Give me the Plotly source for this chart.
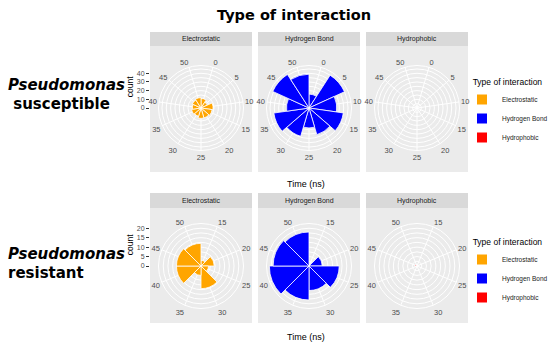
import plotly.graph_objects as go

# ---------------- data ----------------
facets = ["Electrostatic", "Hydrogen Bond", "Hydrophobic"]
colors = {"Electrostatic": "#FFA500", "Hydrogen Bond": "#0000FF", "Hydrophobic": "#FF0000"}

# Pseudomonas susceptible (time bins, ns)
sus_time = [0, 5, 10, 15, 20, 25, 30, 35, 40, 45, 50]
sus_elec = [11, 8, 14, 13, 12, 12, 10, 11, 10, 11, 12]
sus_hb = [16, 45, 32, 40, 32, 23, 34, 41, 26, 46, 39]
sus_hph = [0, 0, 0, 0, 0, 0, 0, 0, 0, 0, 0]

# Pseudomonas resistant
res_time = [15, 20, 25, 30, 35, 40, 45, 50]
res_elec = [3, 7, 4, 12, 5, 13, 13, 12]
res_hb = [0, 7, 16, 13, 18, 21, 19, 18]
res_hph = [0, 0, 0, 0, 0, 0, 1, 0]

sus_count_ticks = [0, 10, 20, 30, 40]
res_count_ticks = [0, 5, 10, 15, 20]
sus_grid = [5, 10, 15, 20, 25, 30, 35, 40, 45]
res_grid = [2.5, 5, 7.5, 10, 12.5, 15, 17.5, 20, 22.5]

# ---------------- layout geometry (px) ----------------
W, H = 550, 347
cxs = [201, 309, 417]
half_w = 51
P = 42.5
rows = [
    dict(strip=(32, 46), body=(46, 172), cy=108, time=sus_time,
         vals=[sus_elec, sus_hb, sus_hph], rmax=49, grid=sus_grid,
         ticks=sus_count_ticks, rot=90 - 360 * 2.5 / 55, legend="legend"),
    dict(strip=(193, 208), body=(208, 323), cy=266, time=res_time,
         vals=[res_elec, res_hb, res_hph], rmax=22.5, grid=res_grid,
         ticks=res_count_ticks, rot=90 - 22.5, legend="legend2"),
]

def px(x):
    return x / W

def py(y):
    return 1 - y / H

fig = go.Figure()
shapes = []
annotations = []
layout = {}

pidx = 0
for ri, row in enumerate(rows):
    for fi, facet in enumerate(facets):
        pidx += 1
        pname = "polar" if pidx == 1 else f"polar{pidx}"
        cx = cxs[fi]
        cy = row["cy"]
        # panel background + strip
        shapes.append(dict(type="rect", xref="paper", yref="paper",
                           x0=px(cx - half_w), x1=px(cx + half_w),
                           y0=py(row["body"][1]), y1=py(row["body"][0]),
                           fillcolor="#EBEBEB", line=dict(width=0), layer="below"))
        shapes.append(dict(type="rect", xref="paper", yref="paper",
                           x0=px(cx - half_w), x1=px(cx + half_w),
                           y0=py(row["strip"][1]), y1=py(row["strip"][0]),
                           fillcolor="#D9D9D9", line=dict(width=0), layer="below"))
        annotations.append(dict(text=facet, x=px(cx), y=py((row["strip"][0] + row["strip"][1]) / 2),
                                xref="paper", yref="paper", showarrow=False,
                                xanchor="center", yanchor="middle",
                                font=dict(family="Liberation Sans", size=7, color="#1A1A1A")))
        cats = [str(t) for t in row["time"]]
        fig.add_trace(go.Barpolar(
            r=row["vals"][fi], theta=cats, subplot=pname, name=facet,
            marker=dict(color=colors[facet], line=dict(color="white", width=0.8)),
            legend=row["legend"], showlegend=True, hoverinfo="skip"))
        layout[pname] = dict(
            domain=dict(x=[px(cx - P), px(cx + P)], y=[py(cy + P), py(cy - P)]),
            bgcolor="#EBEBEB", bargap=0, hole=0,
            radialaxis=dict(range=[0, row["rmax"]], tickvals=row["grid"], showticklabels=False,
                            ticks="", showline=False, gridcolor="white", gridwidth=0.9),
            angularaxis=dict(type="category", categoryarray=cats, direction="clockwise",
                             rotation=row["rot"], showgrid=True, gridcolor="white", gridwidth=0.9,
                             showline=True, linecolor="white", linewidth=1, ticks="",
                             tickfont=dict(family="Liberation Sans", size=7.5, color="#4D4D4D")),
        )
    # count axis
    xa = "xaxis" if ri == 0 else "xaxis2"
    ya = "yaxis" if ri == 0 else "yaxis2"
    xr = "x" if ri == 0 else "x2"
    yr = "y" if ri == 0 else "y2"
    cy = row["cy"]
    layout[xa] = dict(domain=[px(cxs[0] - half_w), px(cxs[0] + half_w)], range=[0, 1],
                      visible=False, anchor=yr)
    layout[ya] = dict(domain=[py(cy), py(cy - P)], range=[0, row["rmax"]], anchor=xr,
                      tickvals=row["ticks"], ticks="outside", ticklen=3, tickcolor="#333333",
                      tickfont=dict(family="Liberation Sans", size=7, color="#4D4D4D"),
                      showgrid=False, zeroline=False, showline=False,
                      title=dict(text="count", font=dict(family="Liberation Sans", size=8.5, color="black"),
                                 standoff=1))
    fig.add_trace(go.Scatter(x=[None], y=[None], xaxis=xr, yaxis=yr, showlegend=False,
                             hoverinfo="skip"))
    annotations.append(dict(text="Time (ns)", x=px(306), y=py(184 if ri == 0 else 337),
                            xref="paper", yref="paper", showarrow=False,
                            xanchor="center", yanchor="middle",
                            font=dict(family="Liberation Sans", size=9, color="black")))

# titles / row labels
annotations.append(dict(text="<b>Type of interaction</b>", x=px(294), y=py(15), xref="paper", yref="paper",
                        showarrow=False, xanchor="center", yanchor="middle",
                        font=dict(family="DejaVu Sans", size=14.5, color="black")))
for txt, y in [("<b><i>Pseudomonas</i></b>", 85), ("<b>&nbsp;susceptible</b>", 104),
               ("<b><i>Pseudomonas</i></b>", 254), ("<b>resistant</b>", 273)]:
    annotations.append(dict(text=txt, x=px(6), y=py(y), xref="paper", yref="paper",
                            xanchor="left", yanchor="middle",
                            showarrow=False, font=dict(family="DejaVu Sans", size=15, color="black")))

legend_common = dict(xanchor="left", yanchor="top", bgcolor="rgba(0,0,0,0)",
                     font=dict(family="Liberation Sans", size=6.5, color="#1A1A1A"),
                     title=dict(text="Type of interaction", side="top center",
                                font=dict(family="Liberation Sans", size=8.5, color="black")),
                     itemsizing="constant", itemwidth=30, tracegroupgap=0)

fig.update_layout(
    width=W, height=H, margin=dict(l=0, r=0, t=0, b=0, autoexpand=False),
    paper_bgcolor="white", plot_bgcolor="white",
    shapes=shapes, annotations=annotations,
    legend=dict(x=px(462), y=py(74), **legend_common),
    legend2=dict(x=px(462), y=py(234), **legend_common),
    **layout,
)

fig.write_html("out.html", config={"displayModeBar": False},
               post_script="document.body.style.margin='0';")
